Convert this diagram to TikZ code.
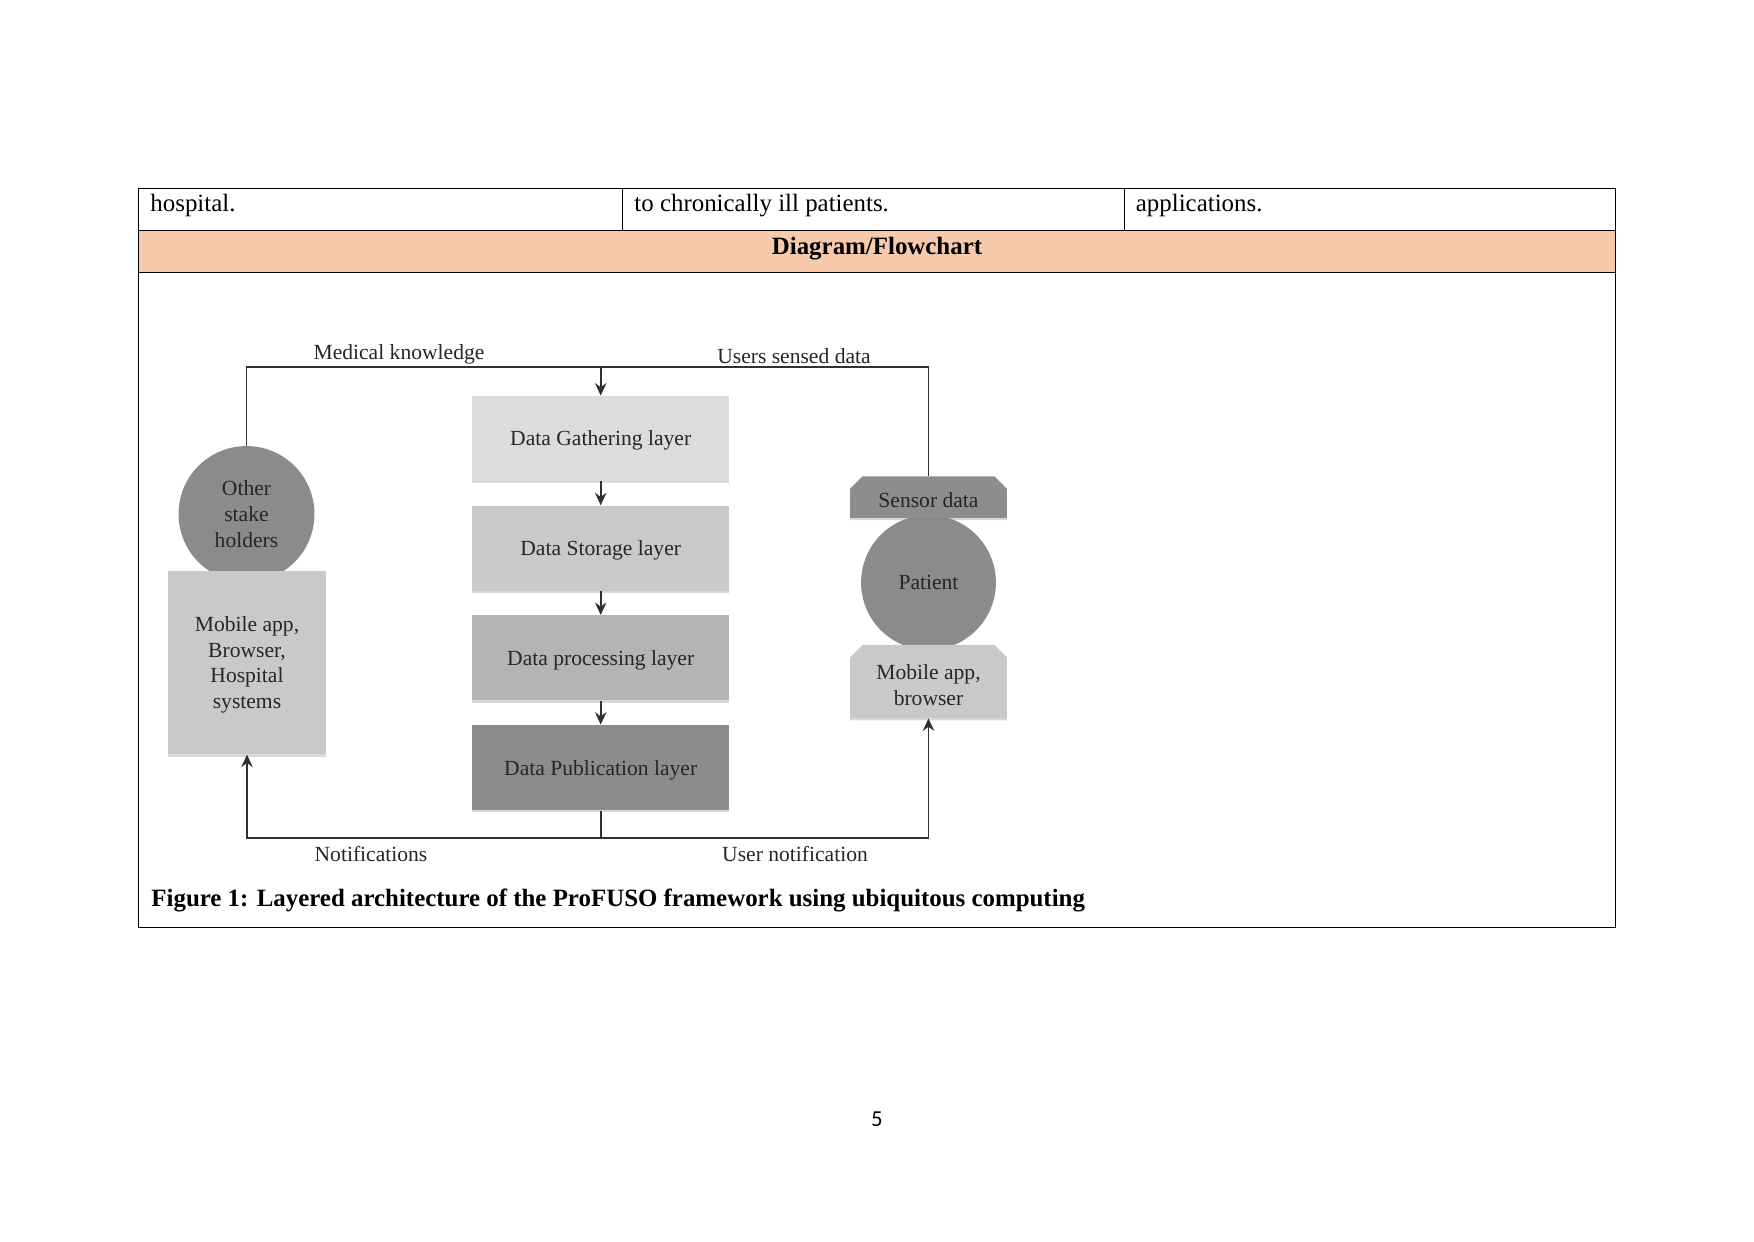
\documentclass[tikz,border=0pt]{standalone}
\usepackage{fontspec}
\setmainfont{Liberation Serif}
\newfontfamily\pagefont{Carlito}
\usetikzlibrary{shapes.misc,shadows,arrows.meta}
\definecolor{hdr}{HTML}{F7CAAC}
\definecolor{txt}{HTML}{262626}
\definecolor{ln}{HTML}{303030}
\definecolor{cGath}{HTML}{DCDCDC}
\definecolor{cStor}{HTML}{C9C9C9}
\definecolor{cProc}{HTML}{B4B4B4}
\definecolor{cPub}{HTML}{8C8C8C}
\definecolor{cCirc}{HTML}{8B8B8B}
\definecolor{cMob}{HTML}{C9C9C9}
\definecolor{cSens}{HTML}{8D8D8D}
\begin{document}
\begin{tikzpicture}[x=0.016933cm,y=-0.016933cm,
  dfont/.style={font=\fontsize{10.4}{12.4}\selectfont, text=txt},
  shad/.style={drop shadow={shadow xshift=0pt, shadow yshift=-1.1pt, opacity=0.3}},
  layerbox/.style={rectangle, dfont, shad, minimum width=124pt, minimum height=41pt, inner sep=0pt, text depth=0pt},
  circbox/.style={circle, dfont, fill=cCirc, inner sep=0pt, align=center},
  chambox/.style={chamfered rectangle, chamfered rectangle corners={north west, north east},
     chamfered rectangle xsep=3pt, chamfered rectangle ysep=3pt, dfont, shad, inner sep=0pt,
     minimum width=75.6pt, align=center, text depth=0pt},
  lbl/.style={dfont, inner sep=0pt},
  lnst/.style={draw=ln, line width=0.8pt},
  arr/.style={lnst, -{Stealth[length=6pt,width=5.5pt,inset=2pt]}},
  celltext/.style={font=\fontsize{12}{14}\selectfont, inner sep=0pt, anchor=base west},
  tbl/.style={draw=black, line width=0.75pt}
]
\useasboundingbox (0,0) rectangle (1754,1241);
\fill[white] (0,0) rectangle (1754,1241);

% ---- table ----
\fill[hdr] (138.3,230.3) rectangle (1615.3,272.3);
\draw[tbl] (138.3,188.3) rectangle (1615.3,927.3);
\draw[tbl] (138.3,230.3) -- (1615.3,230.3);
\draw[tbl] (138.3,272.3) -- (1615.3,272.3);
\draw[tbl] (622.3,188.3) -- (622.3,230.3);
\draw[tbl] (1124.3,188.3) -- (1124.3,230.3);
\node[celltext] (c1) at (150,211) {hospital.};
\node[celltext] (c2) at (634,211) {to chronically ill patients.};
\node[celltext] (c3) at (1135.5,211) {applications.};
\node[font=\fontsize{12}{14}\selectfont\bfseries, inner sep=0pt, anchor=base] (hd) at (877,254) {Diagram/Flowchart};
\node[celltext, font=\fontsize{12}{14}\selectfont\bfseries] (cap) at (151,906) {Figure 1: Layered architecture of the ProFUSO framework using ubiquitous computing};
\node[font=\pagefont\fontsize{11}{13}\selectfont, inner sep=0pt, anchor=base] (pg) at (877,1126) {5};

% ---- diagram ----
\node[circbox, minimum size=65.5pt] (osh) at (246.5,514) {Other\\stake\\holders};
\node[layerbox, fill=cMob, minimum width=75.9pt, minimum height=88.4pt, align=center] (mobL) at (247,662.5) {Mobile app,\\Browser,\\Hospital\\systems};

\node[circbox, minimum size=65pt] (pat) at (928.5,582.5) {Patient};
\node[chambox, fill=cSens, minimum height=20pt, text height=10.3pt] (sens) at (928.5,497) {Sensor data};
\node[chambox, fill=cMob, minimum height=35.2pt, text height=22.7pt] (mobR) at (928.5,681.5) {Mobile app,\\browser};

\node[layerbox, fill=cGath] (gath) at (600.7,438.5) {Data Gathering layer};
\node[layerbox, fill=cStor] (stor) at (600.7,548.2) {Data Storage layer};
\node[layerbox, fill=cProc] (proc) at (600.7,657.9) {Data processing layer};
\node[layerbox, fill=cPub] (pub) at (600.7,767.6) {Data Publication layer};

\coordinate (tj) at (600.7,367);
\coordinate (bj) at (600.7,838);

\draw[lnst] (osh.north) |- (tj) -| (sens.north);
\draw[arr] (tj) -- (gath.north);
\draw[arr] (gath.south) -- (stor.north);
\draw[arr] (stor.south) -- (proc.north);
\draw[arr] (proc.south) -- (pub.north);
\draw[lnst] (pub.south) -- (bj);
\draw[arr] (bj) -| (mobL.south);
\draw[arr] (bj) -| (mobR.south);

\node[lbl] (lmk) at (399,354) {Medical knowledge};
\node[lbl] (lus) at (794,356.5) {Users sensed data};
\node[lbl] (lno) at (371,853.5) {Notifications};
\node[lbl] (lun) at (795,853.5) {User notification};
\end{tikzpicture}
\end{document}
